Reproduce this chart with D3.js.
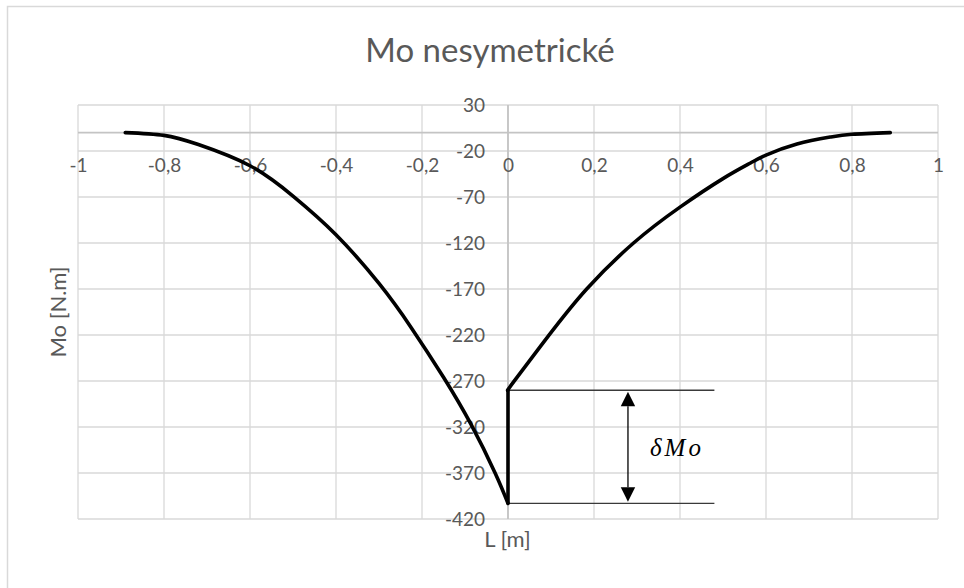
<!DOCTYPE html>
<html>
<head>
<meta charset="utf-8">
<script src="https://cdn.jsdelivr.net/npm/d3@7"></script>
<style>
  html, body { margin: 0; padding: 0; background: #fff; }
  svg { display: block; }
  text { font-family: Lato, "Noto Sans", sans-serif; fill: #595959; }
</style>
</head>
<body>
<svg id="chart" width="964" height="588"></svg>
<script>
// ---- data ----
const title = "Mo nesymetrické";
const xTitle = "L [m]";
const yTitle = "Mo [N.m]";
const xTicks = [-1, -0.8, -0.6, -0.4, -0.2, 0, 0.2, 0.4, 0.6, 0.8, 1];
const yTicks = [30, -20, -70, -120, -170, -220, -270, -320, -370, -420];

// left branch (x in m, Mo in N.m)
const leftX  = [-0.89, -0.80, -0.72, -0.60, -0.50, -0.40, -0.30, -0.225, -0.15, -0.085, -0.03, 0];
const leftMo = [0, -3, -13, -36, -69, -111, -164, -212, -266, -318, -370, -403];
// right branch
const rightX  = [0, 0.013, 0.094, 0.183, 0.292, 0.40, 0.50, 0.564, 0.60, 0.672, 0.75, 0.80, 0.889];
const rightMo = [-280, -271, -221, -170, -120, -81, -50, -33, -24.5, -12.5, -4.8, -1.8, 0];

// δMo annotation
const deltaLevels = [-280, -403];
const deltaLineEndX = 0.48;
const arrowX = 0.279;
const deltaLabel = "δMo";

// ---- drawing ----
const svg = d3.select("#chart");
const x = d3.scaleLinear().domain([-1, 1]).range([78, 938]);
const y = d3.scaleLinear().domain([30, -420]).range([105, 519]);

// chart frame
svg.append("rect").attr("x", 7.5).attr("y", 6.5).attr("width", 1000).attr("height", 1000)
  .attr("fill", "none").attr("stroke", "#d9d9d9").attr("stroke-width", 1.5);

// title
svg.append("text").attr("x", 490).attr("y", 61.5).attr("text-anchor", "middle")
  .style("font-size", "33px").text(title);

// gridlines
const grid = svg.append("g").attr("stroke", "#d9d9d9").attr("stroke-width", 1.3);
grid.selectAll("line.v").data(xTicks).join("line").attr("class", "v")
  .attr("x1", d => x(d)).attr("x2", d => x(d)).attr("y1", y(30)).attr("y2", y(-420));
grid.selectAll("line.h").data(yTicks).join("line").attr("class", "h")
  .attr("x1", x(-1)).attr("x2", x(1)).attr("y1", d => y(d)).attr("y2", d => y(d));

// axis lines through zero
svg.append("line").attr("x1", x(-1)).attr("x2", x(1)).attr("y1", y(0)).attr("y2", y(0))
  .attr("stroke", "#c4c4c4").attr("stroke-width", 1.8);
svg.append("line").attr("x1", x(0)).attr("x2", x(0)).attr("y1", y(30)).attr("y2", y(-420))
  .attr("stroke", "#c4c4c4").attr("stroke-width", 1.8);

// axes (labels)
const fmtX = d => String(d).replace(".", ",");
const yAxis = d3.axisLeft(y).tickValues(yTicks).tickSize(0).tickPadding(23).tickFormat(d => String(d));
const gy = svg.append("g").attr("transform", `translate(${x(0)},0)`).call(yAxis);
gy.select(".domain").remove();
gy.selectAll("text").style("font-size", "19px").attr("fill", "#595959")
  .style("font-family", "Lato, 'Noto Sans', sans-serif");

const xAxis = d3.axisBottom(x).tickValues(xTicks).tickSize(0).tickFormat(fmtX);
const gx = svg.append("g").attr("transform", `translate(0,165)`).call(xAxis);
gx.select(".domain").remove();
gx.selectAll("text").attr("y", 0).attr("dy", "0.35em").style("font-size", "19px")
  .attr("fill", "#595959").style("font-family", "Lato, 'Noto Sans', sans-serif");

// axis titles
svg.append("text").attr("transform", "translate(66,312) rotate(-90)")
  .attr("text-anchor", "middle").style("font-size", "22px").text(yTitle);
svg.append("text").attr("x", 507.5).attr("y", 547).attr("text-anchor", "middle")
  .style("font-size", "22px").text(xTitle);

// delta annotation lines
svg.selectAll("line.delta").data(deltaLevels).join("line").attr("class", "delta")
  .attr("x1", x(0)).attr("x2", x(deltaLineEndX)).attr("y1", d => y(d)).attr("y2", d => y(d))
  .attr("stroke", "#3a3a3a").attr("stroke-width", 1.4);

// curve
const line = d3.line().x(d => x(d[0])).y(d => y(d[1])).curve(d3.curveNatural);
const leftPts = leftX.map((v, i) => [v, leftMo[i]]);
const rightPts = rightX.map((v, i) => [v, rightMo[i]]);
const curveStyle = sel => sel.attr("fill", "none").attr("stroke", "#000")
  .attr("stroke-width", 3.6).attr("stroke-linejoin", "round").attr("stroke-linecap", "round");
svg.append("path").attr("d", line(leftPts)).call(curveStyle);
svg.append("path").attr("d", line(rightPts)).call(curveStyle);
svg.append("path").attr("d", d3.line().x(d => x(d[0])).y(d => y(d[1]))([leftPts[leftPts.length - 1], rightPts[0]]))
  .call(curveStyle);

// double arrow
const ax = x(arrowX);
const yTop = y(deltaLevels[0]) + 1.5, yBot = y(deltaLevels[1]) - 1.5;
const headL = 14.5, headW = 7.2;
svg.append("line").attr("x1", ax).attr("x2", ax).attr("y1", yTop + headL).attr("y2", yBot - headL)
  .attr("stroke", "#000").attr("stroke-width", 1.3);
svg.append("path").attr("d", `M${ax},${yTop}L${ax - headW},${yTop + headL}L${ax + headW},${yTop + headL}Z`).attr("fill", "#000");
svg.append("path").attr("d", `M${ax},${yBot}L${ax - headW},${yBot - headL}L${ax + headW},${yBot - headL}Z`).attr("fill", "#000");

svg.append("text").attr("x", 650).attr("y", 456)
  .style("font-family", "'Liberation Serif', 'DejaVu Serif', serif").style("font-style", "italic")
  .style("font-size", "25px").style("letter-spacing", "3px").style("fill", "#000")
  .text(deltaLabel);
</script>
</body>
</html>
